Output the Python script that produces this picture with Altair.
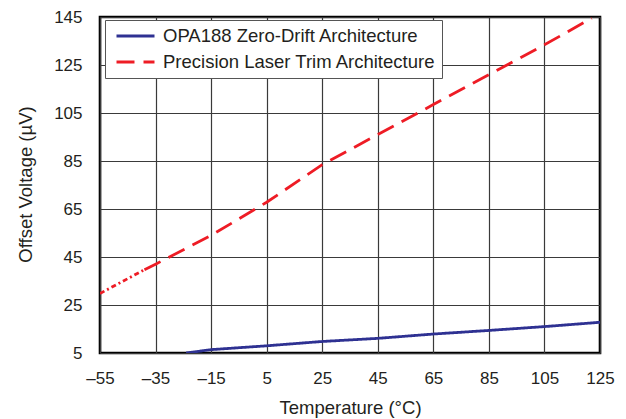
import altair as alt
import pandas as pd

# ---- data ----
series_names = ["OPA188 Zero-Drift Architecture", "Precision Laser Trim Architecture"]
series_colors = ["#2e3192", "#ee1c25"]

temps_zero = [-24, -15, 5, 25, 45, 65, 85, 105, 125]
vals_zero = [5.0, 6.4, 8.0, 9.8, 11.1, 12.9, 14.4, 16.0, 17.8]

# first (dash-dot) piece of the laser-trim curve
temps_laser_start = [-55, -39]
vals_laser_start = [29.8, 39.7]
# remaining (long dash) piece
temps_laser = [-39, -35, -15, 5, 25, 45, 65, 85, 105, 122]
vals_laser = [39.7, 42.0, 54.0, 67.8, 83.5, 96.0, 108.5, 121.0, 133.4, 144.5]

x_ticks = [-55, -35, -15, 5, 25, 45, 65, 85, 105, 125]
y_ticks = [5, 25, 45, 65, 85, 105, 125, 145]

main_df = pd.concat([
    pd.DataFrame({"temp": temps_zero, "offset": vals_zero, "series": series_names[0]}),
    pd.DataFrame({"temp": temps_laser, "offset": vals_laser, "series": series_names[1]}),
], ignore_index=True)
start_df = pd.DataFrame({"temp": temps_laser_start, "offset": vals_laser_start})

FONT = "Liberation Sans"
TXT = "#231f20"

x_enc = alt.X(
    "temp:Q",
    scale=alt.Scale(domain=[-55, 125], nice=False, zero=False),
    axis=alt.Axis(
        values=x_ticks,
        title="Temperature (°C)",
        labelExpr="datum.value < 0 ? '\u2013' + abs(datum.value) : '' + datum.value",
        labelPadding=17,
        labelFlush=False,
        labelOverlap=False,
        titleY=60,
        titleBaseline="alphabetic",
    ),
)
y_enc = alt.Y(
    "offset:Q",
    scale=alt.Scale(domain=[5, 145], nice=False, zero=False),
    axis=alt.Axis(
        values=y_ticks,
        title="Offset Voltage (\u00b5V)",
        labelPadding=18,
        labelFlush=False,
        labelOverlap=False,
        titleX=-69,
        titleY=167,
        titleAlign="center",
        titleBaseline="alphabetic",
    ),
)

lines = alt.Chart(main_df).mark_line(strokeWidth=2.8, clip=True).encode(
    x=x_enc,
    y=y_enc,
    color=alt.Color(
        "series:N",
        scale=alt.Scale(domain=series_names, range=series_colors),
        legend=alt.Legend(
            title=None,
            orient="none",
            legendX=5,
            legendY=3,
            symbolType="stroke",
            symbolSize=1444,
            symbolStrokeWidth=2.8,
            symbolOffset=4,
            labelOffset=7,
            labelFontSize=18.5,
            labelFont=FONT,
            labelColor=TXT,
            clipHeight=20,
            rowPadding=6,
            padding=6,
            strokeColor="#555555",
            fillColor="#ffffff",
            labelLimit=400,
        ),
    ),
    strokeDash=alt.StrokeDash(
        "series:N",
        scale=alt.Scale(domain=series_names, range=[[1, 0], [18, 9]]),
        legend=alt.Legend(title=None),
    ),
    order="temp:Q",
)

start = alt.Chart(start_df).mark_line(
    strokeWidth=2.8, color=series_colors[1], strokeDash=[5, 3, 2, 3], clip=True
).encode(x="temp:Q", y="offset:Q")

chart = (
    alt.layer(start, lines)
    .properties(
        width=500,
        height=336,
        autosize=alt.AutoSizeParams(type="none"),
        padding={"left": 92, "top": 9, "right": 18, "bottom": 66},
        background="#ffffff",
    )
    .configure_view(stroke="#000000", strokeWidth=2.6)
    .configure_axis(
        domain=False,
        ticks=False,
        tickSize=0,
        grid=True,
        gridColor="#3a3a3a",
        gridWidth=1.2,
        labelFont=FONT,
        labelFontSize=17,
        labelColor=TXT,
        titleFont=FONT,
        titleFontSize=18.5,
        titleFontWeight="normal",
        titleColor=TXT,
    )
)

chart.save("out.html", embed_options={"renderer": "svg", "actions": False})
